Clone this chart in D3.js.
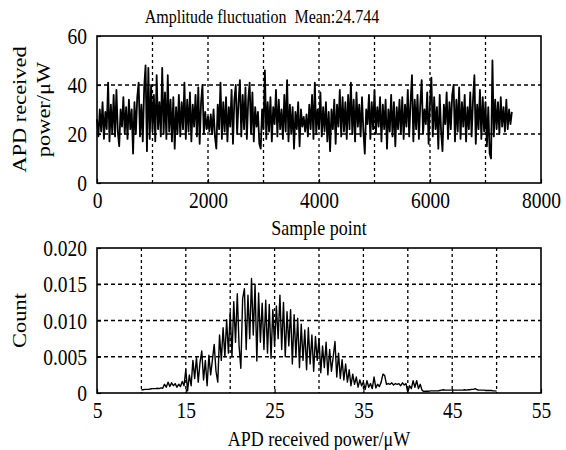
<!DOCTYPE html>
<html>
<head>
<meta charset="utf-8">
<script src="https://cdn.jsdelivr.net/npm/d3@7"></script>
<style>
  html, body { margin: 0; padding: 0; background: #fff; }
  svg { display: block; }
  text { font-family: "Liberation Serif", "Times New Roman", serif; fill: #000; white-space: pre; }
</style>
</head>
<body>
<svg id="chart" width="566" height="450"></svg>
<script>
// ---------------- DATA ----------------
const titleText = "Amplitude fluctuation  Mean:24.744";

// Top panel: APD received power (µW), one value every 25 samples
const sampleStep = 25;
const powerSeries = [
  26,19,30,21,33,18,29,22,41,17,32,20,36,19,38,21,15,30,23,35,
  20,31,18,34,22,30,12,33,20,35,41,19,32,17,39,48,13,47,18,40,
  21,36,17,44,22,33,19,47,20,37,18,44,21,34,17,35,14,31,20,36,
  19,33,22,41,18,34,21,37,17,32,23,36,19,39,16,33,40,20,29,22,
  27,21,28,20,30,19,14,32,22,41,18,33,21,35,17,31,23,38,16,34,
  40,20,33,42,19,36,22,39,18,34,41,20,37,17,31,23,29,16,14,30,
  22,46,18,33,21,35,17,31,24,38,19,34,22,30,18,36,21,42,17,32,
  20,31,14,29,22,33,15,30,23,27,21,28,19,32,22,36,18,41,20,30,
  22,37,19,31,21,33,17,29,13,30,22,34,16,32,23,38,19,35,21,33,
  18,36,22,41,20,34,17,37,23,32,19,35,21,12,30,24,36,18,33,22,
  38,20,31,23,35,17,32,22,34,14,30,21,36,19,33,15,31,22,34,20,
  35,18,32,23,38,19,33,44,17,34,22,36,18,32,42,20,30,24,37,16,
  33,43,19,35,22,31,14,36,21,13,32,24,37,18,33,22,36,40,17,34,
  21,39,18,33,23,36,17,31,22,37,19,34,44,16,32,22,38,18,35,21,
  33,15,31,12,10,50,19,34,22,33,20,35,23,31,21,34,22,30,24,29
];
const topXTicks = [0, 2000, 4000, 6000, 8000];
const topXGrid = [1000, 2000, 3000, 4000, 5000, 6000, 7000];
const topYTicks = [0, 20, 40, 60];
const topYGrid = [20, 40];

// Bottom panel: normalized count (in thousandths) per 0.2 µW bin, from 10 to 50 µW
const binStart = 10;
const binStep = 0.2;
const countMilli = [
  0.45,0.45,0.5,0.5,0.5,0.55,0.6,0.6,0.6,0.65,0.6,0.7,0.65,
  1.2,0.8,1.5,0.9,1.4,1.0,1.3,0.8,1.2,0.9,1.6,1.0,
  3.2,0.3,2.5,1.0,4.5,
  2.0,4.9,1.5,4.2,5.8,1.8,4.5,1.0,5.2,2.5,4.6,6.7,3.0,1.5,8.0,
  4.5,9.0,5.0,10.1,5.5,
  11.2,5.0,12.6,7.0,13.7,
  6.5,3.4,13.0,14.4,6.0,
  13.5,7.5,15.8,8.0,15.0,
  4.4,13.8,7.0,12.4,6.0,
  12.8,5.5,12.2,4.8,11.5,
  6.5,12.0,7.5,13.5,6.0,
  12.5,5.0,11.2,6.5,11.5,
  4.0,10.8,5.0,10.3,3.5,
  9.5,4.5,8.7,3.2,9.0,
  4.0,8.0,3.0,7.8,4.5,
  7.5,2.8,6.5,3.5,7.0,
  2.5,6.0,3.0,5.0,7.1,
  2.2,5.5,2.0,4.6,1.8,
  4.0,1.5,3.2,1.0,2.6,
  1.2,2.2,0.8,1.8,1.0,
  1.5,0.5,1.7,0.8,1.3,
  0.6,2.2,0.7,1.2,0.9,
  1.5,2.6,2.4,1.2,1.3,
  1.2,1.4,1.1,1.3,1.2,
  1.3,1.0,1.4,1.1,1.3,
  0.1,1.0,0.6,1.7,0.8,
  1.7,0.6,1.2,0.4,0.2,
  0.25,0.25,0.25,0.3,0.3,0.3,0.3,0.3,0.35,0.4,
  0.45,0.4,0.4,0.4,0.4,0.4,0.4,0.4,0.4,0.4,
  0.4,0.4,0.45,0.4,0.45,0.45,0.5,0.5,0.6,0.45,
  0.4,0.4,0.4,0.4,0.35,0.35,0.35,0.35,0.3,0.3,0.25
];
const botXTicks = [5, 15, 25, 35, 45, 55];
const botXGrid = [10, 15, 20, 25, 30, 35, 40, 45, 50];
const botYTicks = [0, 0.005, 0.010, 0.015, 0.020];
const botYLabels = ["0", "0.005", "0.010", "0.015", "0.020"];
const botYGrid = [0.005, 0.010, 0.015];

// ---------------- DRAW ----------------
const svg = d3.select("#chart");
const L = 97, R = 541;
const top1 = 36, bot1 = 183;
const top2 = 248, bot2 = 393;
const tickFont = 19.5, labelFont = 18, yLabelFont = 19.5;
const SY = 1.15; // vertical stretch of the original figure's lettering

function stretchedText(x, y, txt, size, anchor, rotate) {
  const g = svg.append("g").attr("transform", `translate(${x},${y}) scale(1,${SY})` + (rotate ? " rotate(-90)" : ""));
  return g.append("text").attr("x", 0).attr("y", 0).attr("text-anchor", anchor)
    .attr("font-size", size).text(txt);
}

function panel(xs, ys, top, bottom, xGrid, yGrid, xTicks, yTicks, yFmt, xBase) {
  const g = svg.append("g");
  g.append("g").selectAll("line").data(xGrid).join("line")
    .attr("x1", d => xs(d)).attr("x2", d => xs(d))
    .attr("y1", top).attr("y2", bottom)
    .attr("stroke", "#000").attr("stroke-width", 1.3).attr("stroke-dasharray", "3,3");
  g.append("g").selectAll("line").data(yGrid).join("line")
    .attr("y1", d => ys(d)).attr("y2", d => ys(d))
    .attr("x1", L).attr("x2", R)
    .attr("stroke", "#000").attr("stroke-width", 1.3).attr("stroke-dasharray", "4,3");
  const ax = d3.axisBottom(xs).tickValues(xTicks).tickSize(-4).tickFormat(d3.format("d"));
  const ay = d3.axisLeft(ys).tickValues(yTicks).tickSize(-4).tickFormat(yFmt);
  const gx = g.append("g").attr("transform", `translate(0,${bottom})`).call(ax);
  const gy = g.append("g").attr("transform", `translate(${L},0)`).call(ay);
  [gx, gy].forEach(a => {
    a.select(".domain").remove();
    a.selectAll("line").attr("stroke", "#000").attr("stroke-width", 1.2);
    a.selectAll("text").attr("font-size", tickFont).attr("font-family", "Liberation Serif").attr("fill", "#000");
  });
  gx.selectAll(".tick text")
    .attr("y", 0).attr("dy", 0)
    .attr("transform", `translate(0,${xBase}) scale(1,${SY})`);
  gy.selectAll(".tick text")
    .attr("x", 0).attr("dy", 0).attr("y", 0)
    .attr("transform", `translate(-10,${0.676 * tickFont * SY / 2}) scale(1,${SY})`);
  return g;
}

// Top panel
const x1 = d3.scaleLinear().domain([0, 8000]).range([L, R]);
const y1 = d3.scaleLinear().domain([0, 60]).range([bot1, top1]);
const g1 = panel(x1, y1, top1, bot1, topXGrid, topYGrid, topXTicks, topYTicks, d3.format("d"), 25);
g1.append("path")
  .datum(powerSeries)
  .attr("fill", "none").attr("stroke", "#000").attr("stroke-width", 1.8)
  .attr("stroke-linejoin", "round")
  .attr("d", d3.line().x((d, i) => x1(i * sampleStep)).y(d => y1(d)));
g1.append("rect").attr("x", L).attr("y", top1).attr("width", R - L).attr("height", bot1 - top1)
  .attr("fill", "none").attr("stroke", "#000").attr("stroke-width", 1.6);

// Bottom panel
const x2 = d3.scaleLinear().domain([5, 55]).range([L, R]);
const y2 = d3.scaleLinear().domain([0, 0.02]).range([bot2, top2]);
const g2 = panel(x2, y2, top2, bot2, botXGrid, botYGrid, botXTicks, botYTicks, (d, i) => botYLabels[i], 25);
g2.append("path")
  .datum(countMilli)
  .attr("fill", "none").attr("stroke", "#000").attr("stroke-width", 1.4)
  .attr("stroke-linejoin", "round")
  .attr("d", d3.line().x((d, i) => x2(binStart + i * binStep)).y(d => y2(d / 1000)));
g2.append("rect").attr("x", L).attr("y", top2).attr("width", R - L).attr("height", bot2 - top2)
  .attr("fill", "none").attr("stroke", "#000").attr("stroke-width", 1.6);

// Texts
stretchedText(262, 23, titleText, 16, "middle", false);
stretchedText((L + R) / 2, 235, "Sample point", labelFont, "middle", false);
stretchedText((L + R) / 2, 446, "APD received power/μW", labelFont, "middle", false);
stretchedText(26, (top1 + bot1) / 2, "APD received", yLabelFont, "middle", true);
stretchedText(50, (top1 + bot1) / 2, "power/μW", yLabelFont, "middle", true);
stretchedText(26, (top2 + bot2) / 2, "Count", yLabelFont, "middle", true);
</script>
</body>
</html>
